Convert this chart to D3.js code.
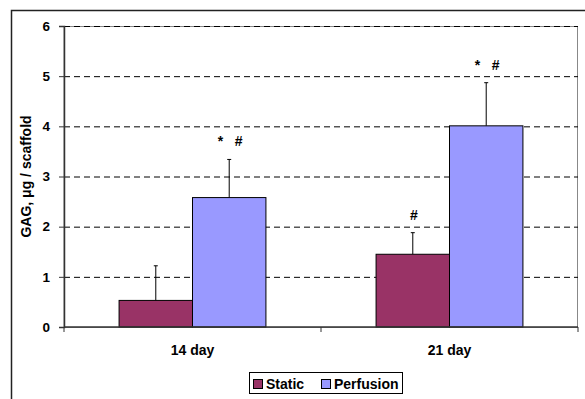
<!DOCTYPE html>
<html>
<head>
<meta charset="utf-8">
<script src="https://cdn.jsdelivr.net/npm/d3@7"></script>
<style>
  body { margin: 0; background: #fff; }
  svg { display: block; font-family: "Liberation Sans", Arial, sans-serif; font-weight: bold; }
</style>
</head>
<body>
<div id="chart"></div>
<script>
var categories = ["14 day", "21 day"];
var series = ["Static", "Perfusion"];
var staticMean = [0.53, 1.45];
var perfusionMean = [2.58, 4.01];
var staticErr = [0.69, 0.43];
var perfusionErr = [0.76, 0.86];
var staticMarks = ["", "#"];
var perfusionMarks = ["*   #", "*   #"];
var yTicks = [0, 1, 2, 3, 4, 5, 6];
var colors = ["#993366", "#9999ff"];

var width = 585, height = 399;
var plotL = 64, plotR = 578, plotT = 26, plotB = 327;

var svg = d3.select("#chart").append("svg")
    .attr("width", width)
    .attr("height", height);

// outer chart frame (runs off the right and bottom edge)
svg.append("rect")
    .attr("x", 11.5).attr("y", 10.5)
    .attr("width", 600).attr("height", 400)
    .attr("fill", "none")
    .attr("stroke", "#222")
    .attr("stroke-width", 1.5);

var x0 = d3.scaleBand().domain(categories).range([plotL, plotR]);
var barW = x0.bandwidth() / 3.5;
var x1 = d3.scaleBand().domain(series).range([0, barW * 2]);
var y = d3.scaleLinear().domain([0, 6]).range([plotB, plotT]);

// plot area border
svg.append("rect")
    .attr("x", plotL).attr("y", plotT + 0.5)
    .attr("width", plotR - plotL - 0.5).attr("height", plotB - plotT)
    .attr("fill", "none")
    .attr("stroke", "#888")
    .attr("stroke-width", 1);

// dashed gridlines
svg.append("g")
    .attr("transform", "translate(" + plotL + ",0)")
    .call(d3.axisLeft(y).tickValues(yTicks.slice(1)).tickSize(-(plotR - plotL)).tickFormat(""))
    .call(function(g) {
      g.select(".domain").remove();
      g.selectAll("line").attr("stroke", "#000").attr("stroke-dasharray", "6,4");
    });

var data = categories.map(function(c, i) {
  return [
    { cat: c, s: series[0], v: staticMean[i], e: staticErr[i], m: staticMarks[i], col: colors[0] },
    { cat: c, s: series[1], v: perfusionMean[i], e: perfusionErr[i], m: perfusionMarks[i], col: colors[1] }
  ];
});
var flat = [].concat.apply([], data);
var off = (x0.bandwidth() - barW * 2) / 2;
function bx(d) { return x0(d.cat) + off + x1(d.s); }

// error bars (upper only)
var eb = svg.append("g").selectAll("g").data(flat).enter().append("g");
eb.append("line")
    .attr("x1", function(d) { return bx(d) + barW / 2; })
    .attr("x2", function(d) { return bx(d) + barW / 2; })
    .attr("y1", function(d) { return y(d.v); })
    .attr("y2", function(d) { return y(d.v + d.e); })
    .attr("stroke", "#000");
eb.append("line")
    .attr("x1", function(d) { return bx(d) + barW / 2 - 2; })
    .attr("x2", function(d) { return bx(d) + barW / 2 + 2; })
    .attr("y1", function(d) { return y(d.v + d.e); })
    .attr("y2", function(d) { return y(d.v + d.e); })
    .attr("stroke", "#000");

// bars
svg.append("g").selectAll("rect").data(flat).enter().append("rect")
    .attr("x", bx)
    .attr("y", function(d) { return y(d.v); })
    .attr("width", barW)
    .attr("height", function(d) { return y(0) - y(d.v); })
    .attr("fill", function(d) { return d.col; })
    .attr("stroke", "#000")
    .attr("stroke-width", 1);

// significance marks
svg.append("g").selectAll("text").data(flat.filter(function(d) { return d.m; })).enter().append("text")
    .attr("x", function(d) { return bx(d) + barW / 2 + 1; })
    .attr("y", function(d) { return y(d.v + d.e) - 13; })
    .attr("text-anchor", "middle")
    .style("white-space", "pre")
    .attr("font-size", 14)
    .text(function(d) { return d.m; });

// y axis
svg.append("g")
    .attr("transform", "translate(" + plotL + ",0)")
    .call(d3.axisLeft(y).tickValues(yTicks).tickSize(5).tickPadding(9).tickFormat(d3.format("d")))
    .call(function(g) {
      g.select(".domain").attr("stroke", "#333").attr("stroke-width", 1.5);
      g.selectAll("line").attr("stroke", "#333");
      g.selectAll("text").attr("font-size", 13.5).attr("font-family", null).attr("font-weight", "bold").attr("fill", "#000");
    });

// x axis
var xAxis = svg.append("g").attr("transform", "translate(0," + plotB + ")");
xAxis.append("line")
    .attr("x1", plotL).attr("x2", plotR)
    .attr("stroke", "#333").attr("stroke-width", 1.5);
xAxis.selectAll(".tk").data(categories.concat([null])).enter().append("line")
    .attr("x1", function(d, i) { return i < categories.length ? x0(d) : plotR; })
    .attr("x2", function(d, i) { return i < categories.length ? x0(d) : plotR; })
    .attr("y1", 0).attr("y2", 5)
    .attr("stroke", "#333");
xAxis.selectAll("text").data(categories).enter().append("text")
    .attr("x", function(d) { return x0(d) + x0.bandwidth() / 2; })
    .attr("y", 28)
    .attr("text-anchor", "middle")
    .attr("font-size", 14)
    .text(function(d) { return d; });

// y title
svg.append("text")
    .attr("transform", "translate(31," + ((plotT + plotB) / 2) + ") rotate(-90)")
    .attr("text-anchor", "middle")
    .attr("font-size", 14)
    .text("GAG, μg / scaffold");

// legend
var lg = svg.append("g");
lg.append("rect")
    .attr("x", 249.5).attr("y", 372.5).attr("width", 153).attr("height", 21)
    .attr("fill", "#fff").attr("stroke", "#000");
var lx = [253, 321];
series.forEach(function(s, i) {
  lg.append("rect")
      .attr("x", lx[i] + 0.5).attr("y", 379.5).attr("width", 9).attr("height", 9)
      .attr("fill", colors[i]).attr("stroke", "#000");
  lg.append("text")
      .attr("x", lx[i] + 13).attr("y", 389)
      .attr("font-size", 14)
      .text(s);
});
</script>
</body>
</html>
